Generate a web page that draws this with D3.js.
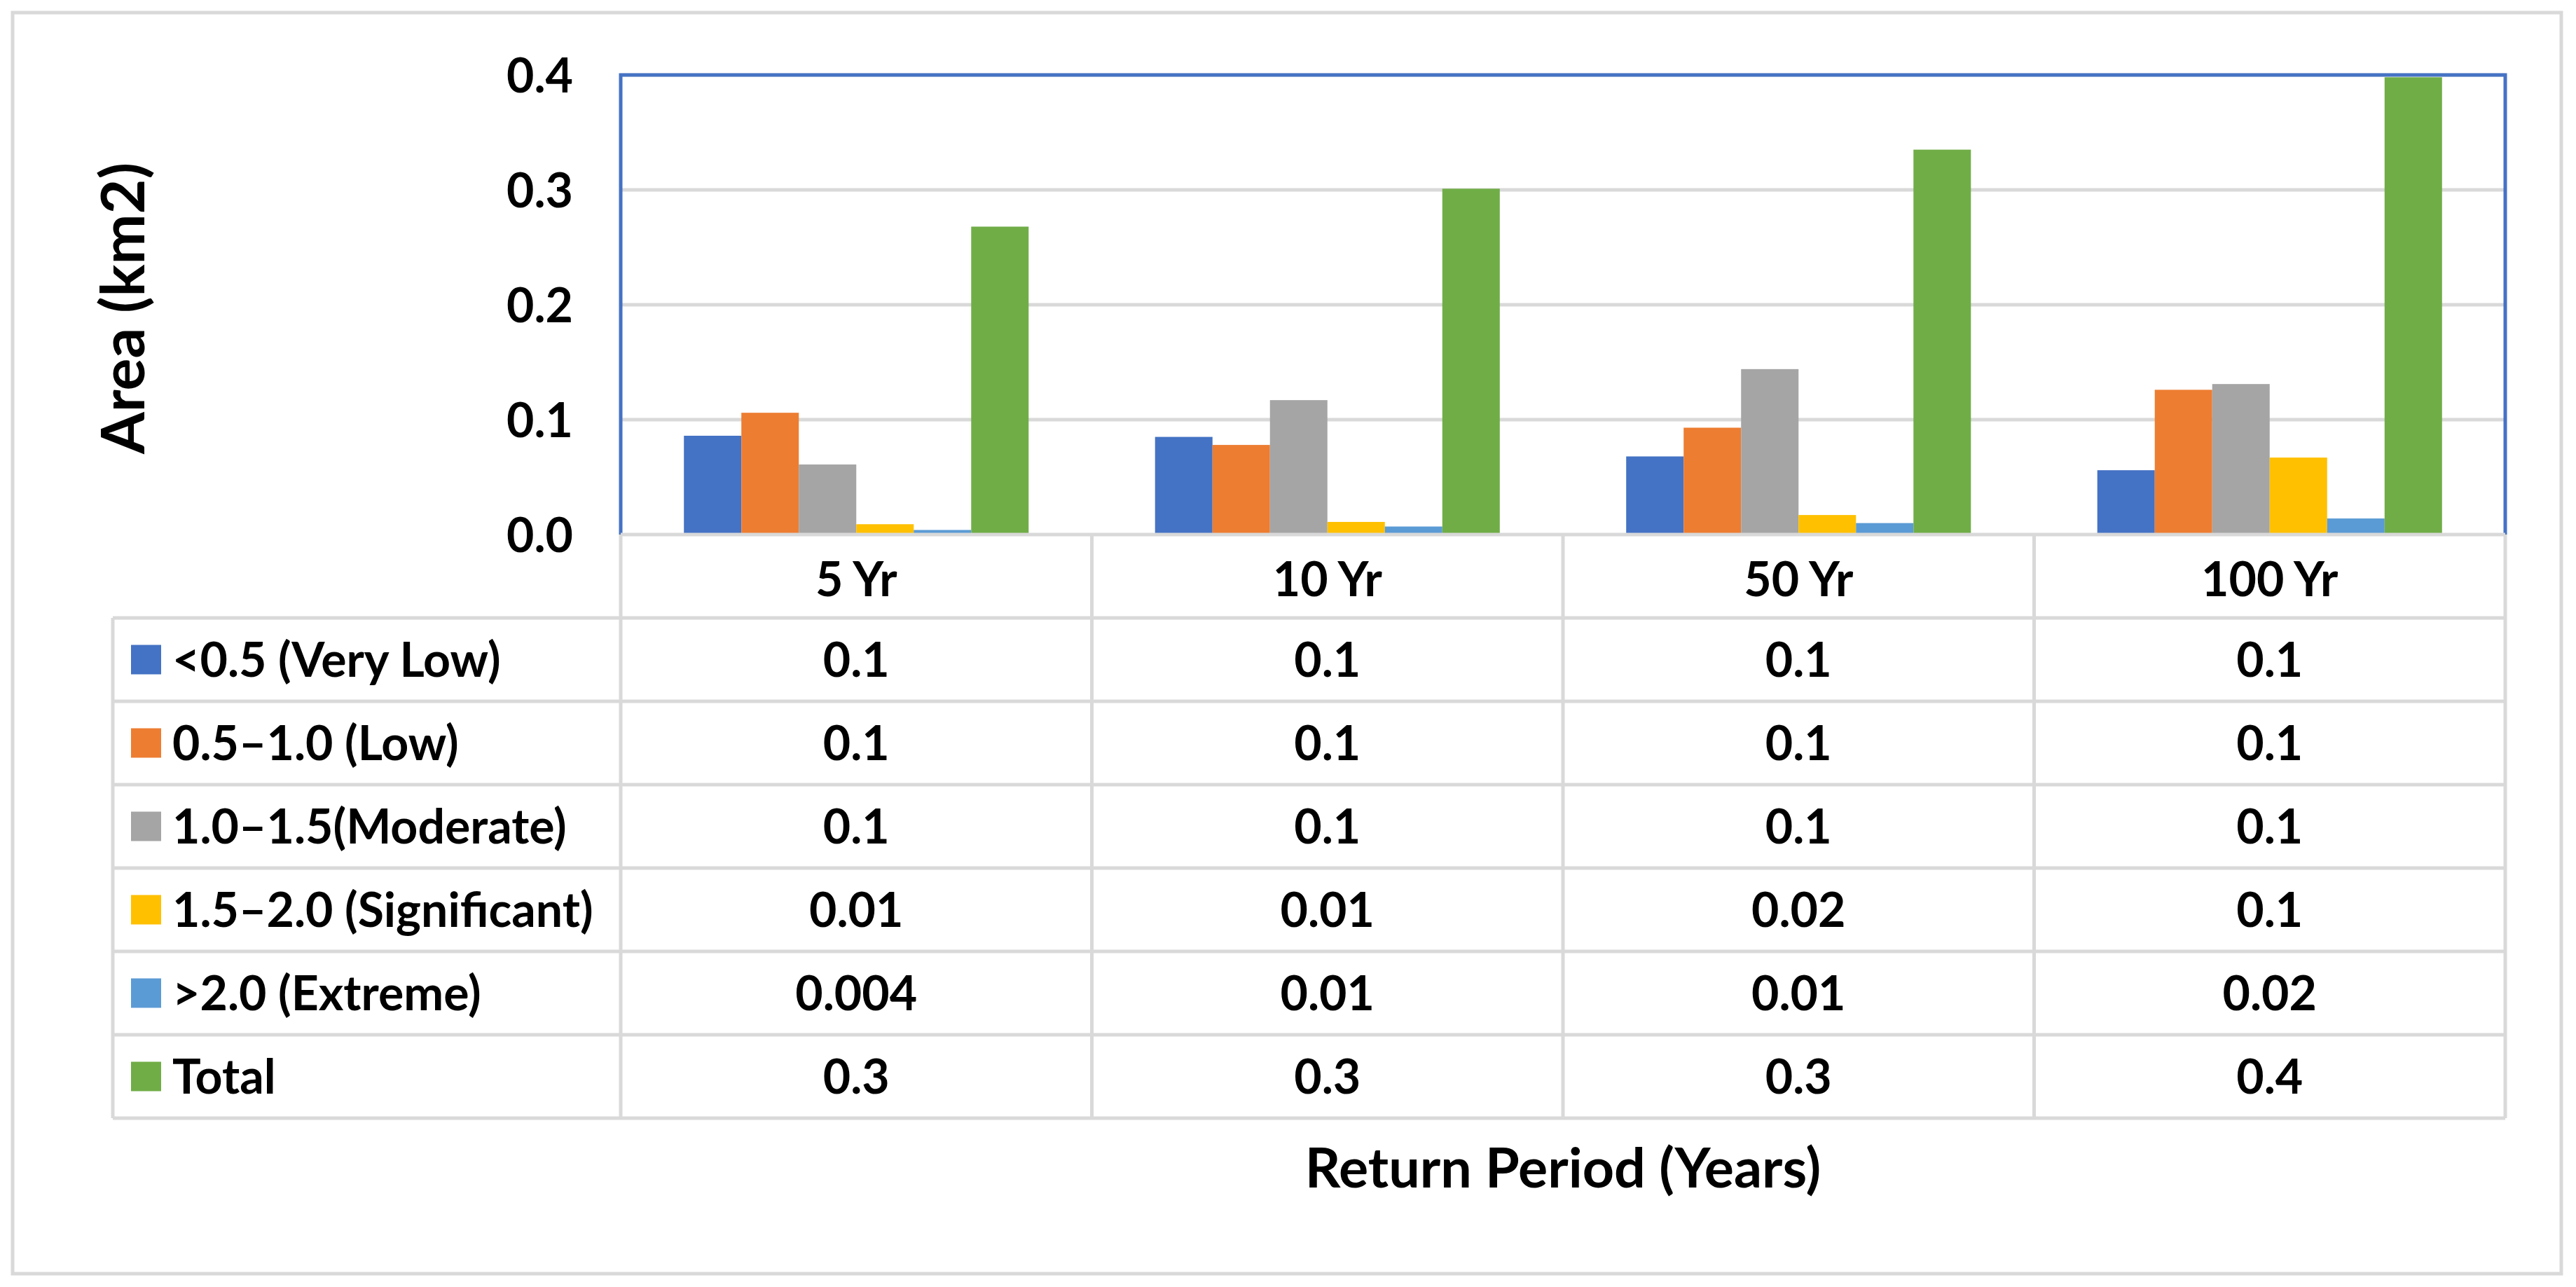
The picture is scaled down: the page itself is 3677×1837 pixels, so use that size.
<!DOCTYPE html>
<html>
<head>
<meta charset="utf-8">
<script src="https://cdn.jsdelivr.net/npm/d3@7"></script>
<style>
  html, body { margin: 0; padding: 0; background: #ffffff; }
  svg { display: block; }
  text { font-family: Lato, "Open Sans", sans-serif; font-weight: bold; fill: #000; }
</style>
</head>
<body>
<svg id="chart" width="3677" height="1837"></svg>
<script>
// ---- data ----
const categories = ["5 Yr", "10 Yr", "50 Yr", "100 Yr"];
const seriesNames = ["<0.5 (Very Low)", "0.5\u20131.0 (Low)", "1.0\u20131.5(Moderate)", "1.5\u20132.0 (Significant)", ">2.0 (Extreme)", "Total"];
const seriesColors = ["#4472C4", "#ED7D31", "#A5A5A5", "#FFC000", "#5B9BD5", "#70AD47"];
const veryLow     = [0.086, 0.085, 0.068, 0.056];
const low         = [0.106, 0.078, 0.093, 0.126];
const moderate    = [0.061, 0.117, 0.144, 0.131];
const significant = [0.009, 0.011, 0.017, 0.067];
const extreme     = [0.004, 0.007, 0.010, 0.014];
const total       = [0.268, 0.301, 0.335, 0.398];
const tableVeryLow     = ["0.1", "0.1", "0.1", "0.1"];
const tableLow         = ["0.1", "0.1", "0.1", "0.1"];
const tableModerate    = ["0.1", "0.1", "0.1", "0.1"];
const tableSignificant = ["0.01", "0.01", "0.02", "0.1"];
const tableExtreme     = ["0.004", "0.01", "0.01", "0.02"];
const tableTotal       = ["0.3", "0.3", "0.3", "0.4"];
const yTicks = [0, 0.1, 0.2, 0.3, 0.4];
const yTitle = "Area (km2)";
const xTitle = "Return Period (Years)";

const seriesValues = [veryLow, low, moderate, significant, extreme, total];
const tableValues = [tableVeryLow, tableLow, tableModerate, tableSignificant, tableExtreme, tableTotal];

// ---- layout ----
const svg = d3.select("#chart");
const plotL = 886, plotR = 3576, plotT = 107, plotB = 763;
const rowH = 119;
const tableL = 161;
const gridColor = "#D9D9D9";
const tableFont = 68;

// outer chart border
svg.append("rect").attr("x", 18).attr("y", 18).attr("width", 3638).attr("height", 1800)
  .attr("fill", "#fff").attr("stroke", gridColor).attr("stroke-width", 5);

const x0 = d3.scaleBand().domain(categories).range([plotL, plotR]).padding(0);
const x1 = d3.scaleBand().domain(d3.range(seriesNames.length)).range([0, x0.bandwidth()])
  .paddingInner(0).paddingOuter(1.1);
const y = d3.scaleLinear().domain([0, 0.4]).range([plotB, plotT]);

// gridlines
svg.append("g").selectAll("line").data(yTicks.filter(d => d > 0)).join("line")
  .attr("x1", plotL).attr("x2", plotR)
  .attr("y1", d => y(d)).attr("y2", d => y(d))
  .attr("stroke", gridColor).attr("stroke-width", 5);

// bars
const bars = [];
seriesValues.forEach((vals, si) => vals.forEach((v, ci) => bars.push({si, ci, v})));
svg.append("g").selectAll("rect").data(bars).join("rect")
  .attr("x", d => x0(categories[d.ci]) + x1(d.si))
  .attr("width", x1.bandwidth())
  .attr("y", d => y(d.v))
  .attr("height", d => y(0) - y(d.v))
  .attr("fill", d => seriesColors[d.si]);

// plot area border (blue) top, left, right
svg.append("path")
  .attr("d", `M${plotL},${plotB} L${plotL},${plotT} L${plotR},${plotT} L${plotR},${plotB}`)
  .attr("fill", "none").attr("stroke", "#4472C4").attr("stroke-width", 5);

// y axis labels
const yAxis = d3.axisLeft(y).tickValues(yTicks).tickFormat(d3.format(".1f")).tickSize(0).tickPadding(0);
const yg = svg.append("g").attr("transform", `translate(818,0)`).call(yAxis);
yg.select(".domain").remove();
yg.selectAll("text").attr("font-size", 68).attr("font-family", "Lato, sans-serif")
  .attr("font-weight", "bold").attr("fill", "#000").attr("dy", "0.36em");

// y title
svg.append("text").attr("transform", `translate(206,440) rotate(-90)`)
  .attr("text-anchor", "middle").attr("font-size", 86).text(yTitle);

// ---- data table ----
const tg = svg.append("g");
const tableB = plotB + rowH * (seriesNames.length + 1);
tg.append("line").attr("x1", plotL).attr("x2", plotR).attr("y1", plotB).attr("y2", plotB)
  .attr("stroke", gridColor).attr("stroke-width", 5);
for (let r = 1; r <= seriesNames.length + 1; r++) {
  tg.append("line").attr("x1", tableL).attr("x2", plotR)
    .attr("y1", plotB + r * rowH).attr("y2", plotB + r * rowH)
    .attr("stroke", gridColor).attr("stroke-width", 5);
}
categories.forEach(c => {
  tg.append("line").attr("x1", x0(c)).attr("x2", x0(c)).attr("y1", plotB).attr("y2", tableB)
    .attr("stroke", gridColor).attr("stroke-width", 5);
});
tg.append("line").attr("x1", plotR).attr("x2", plotR).attr("y1", plotB).attr("y2", tableB)
  .attr("stroke", gridColor).attr("stroke-width", 5);
tg.append("line").attr("x1", tableL).attr("x2", tableL).attr("y1", plotB + rowH).attr("y2", tableB)
  .attr("stroke", gridColor).attr("stroke-width", 5);

// header labels
tg.selectAll("text.hdr").data(categories).join("text").attr("class", "hdr")
  .attr("x", d => x0(d) + x0.bandwidth() / 2).attr("y", plotB + rowH / 2 + 4)
  .attr("dy", "0.36em").attr("text-anchor", "middle").attr("font-size", tableFont).text(d => d);

// rows
seriesNames.forEach((name, si) => {
  const cy = plotB + rowH * (si + 1) + rowH / 2;
  tg.append("rect").attr("x", 187).attr("y", cy - 21).attr("width", 43).attr("height", 42)
    .attr("fill", seriesColors[si]);
  tg.append("text").attr("x", 246).attr("y", cy).attr("dy", "0.36em")
    .attr("font-size", tableFont).text(name);
  tg.selectAll(null).data(tableValues[si]).join("text")
    .attr("x", (d, ci) => x0(categories[ci]) + x0.bandwidth() / 2).attr("y", cy)
    .attr("dy", "0.36em").attr("text-anchor", "middle").attr("font-size", tableFont).text(d => d);
});

// x title
svg.append("text").attr("x", (plotL + plotR) / 2).attr("y", 1667).attr("dy", "0.36em")
  .attr("text-anchor", "middle").attr("font-size", 79).text(xTitle);
</script>
</body>
</html>
